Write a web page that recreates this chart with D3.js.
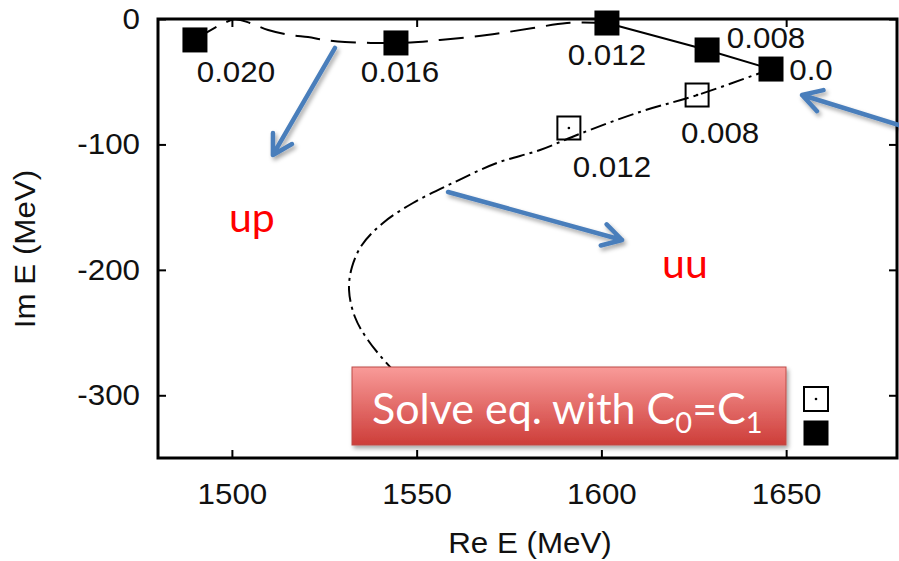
<!DOCTYPE html>
<html>
<head>
<meta charset="utf-8">
<script src="https://cdn.jsdelivr.net/npm/d3@7"></script>
<style>
  body { margin: 0; background: #fff; }
  svg { display: block; }
</style>
</head>
<body>
<div id="chart-area"></div>
<script>
// filled squares (solid / dashed trajectory)
const filledRe = [1490.0, 1544.4, 1601.5, 1628.6, 1645.9];
const filledIm = [-16.7, -19.1, -3.2, -24.7, -39.9];
const filledLabels = ["0.020", "0.016", "0.012", "0.008", "0.0"];

// open squares (dash-dot trajectory)
const openRe = [1591.2, 1625.9];
const openIm = [-86.9, -60.6];
const openLabels = ["0.012", "0.008"];

// dashed trajectory
const dashRe = [1490.0, 1500.5, 1504.9, 1509.8, 1516.0, 1520.6, 1525.2, 1530.6, 1537.6, 1544.4, 1550.4, 1556.3, 1569.0, 1581.5, 1590.7, 1601.5];
const dashIm = [-16.7, -0.5, -3.2, -8.8, -12.8, -14.4, -16.7, -18.3, -19.1, -19.1, -18.3, -16.7, -12.8, -7.2, -3.2, -3.2];

// solid segment
const solidRe = [1601.5, 1628.6, 1645.9];
const solidIm = [-3.2, -24.7, -39.9];

// dash-dot trajectory
const dotRe = [1645.9, 1626.0, 1610.4, 1594.2, 1583.4, 1571.7, 1559.8, 1549.0, 1540.9, 1535.2, 1532.5, 1531.7, 1533.3, 1536.8, 1542.8, 1550.9, 1559.5];
const dotIm = [-39.9, -60.6, -74.1, -91.5, -104.4, -114.8, -130.7, -146.7, -162.6, -180.2, -197.7, -216.1, -237.6, -255.9, -277.4, -302.2, -322.0];

const xTicks = [1500, 1550, 1600, 1650];
const yTicks = [0, -100, -200, -300];

// blue annotation arrows (data units)
const arrowFromRe = [1527.9, 1558.5, 1682.2];
const arrowFromIm = [-23.1, -137.9, -86.1];
const arrowToRe = [1511.1, 1605.6, 1654.3];
const arrowToIm = [-108.4, -176.2, -60.6];

// red labels (data units)
const noteText = ["up", "uu"];
const noteRe = [1505.4, 1622.6];
const noteIm = [-169.8, -206.5];

// label offsets in px (dx of centre, dy of baseline)
const filledOff = [[41, 42], [4, 39], [0, 42], [59, -2], [40, 11]];
const openOff = [[43, 49], [23, 48]];

const W = 899, H = 561;
const margins = { top: 19, right: 2, bottom: 103, left: 158 };
const graphWidth = W - margins.left - margins.right;
const graphHeight = H - margins.top - margins.bottom;

const gpFont = "'Liberation Sans', Arial, Helvetica, sans-serif";
const gpSize = 29;
const stretchK = 1.08;

const svg = d3.select("#chart-area").append("svg")
  .attr("width", W).attr("height", H);

const defs = svg.append("defs");
defs.append("clipPath").attr("id", "plotclip")
  .append("rect").attr("width", graphWidth).attr("height", graphHeight);

const shadow = defs.append("filter").attr("id", "shadow")
  .attr("x", "-20%").attr("y", "-20%").attr("width", "140%").attr("height", "160%");
shadow.append("feDropShadow").attr("dx", 2).attr("dy", 3).attr("stdDeviation", 2)
  .attr("flood-color", "#000").attr("flood-opacity", 0.35);

const grad = defs.append("linearGradient").attr("id", "boxgrad")
  .attr("x1", 0).attr("y1", 0).attr("x2", 0).attr("y2", 1);
grad.append("stop").attr("offset", "0%").attr("stop-color", "#f99b99");
grad.append("stop").attr("offset", "100%").attr("stop-color", "#cd3d39");

const graph = svg.append("g")
  .attr("transform", `translate(${margins.left},${margins.top})`);

const x = d3.scaleLinear().domain([1480, 1680]).range([0, graphWidth]);
const y = d3.scaleLinear().domain([-350, 0]).range([graphHeight, 0]);

function stretch(sel) {
  sel.each(function() {
    const len = this.getComputedTextLength();
    d3.select(this).attr("textLength", len * stretchK).attr("lengthAdjust", "spacingAndGlyphs");
  });
}

const plain = d => String(d);

// axes, ticks inside on all four sides
const xAxisGroup = graph.append("g").attr("transform", `translate(0,${graphHeight})`)
  .call(d3.axisBottom(x).tickValues(xTicks).tickFormat(plain).tickSizeInner(-8).tickSizeOuter(0).tickPadding(25));
const yAxisGroup = graph.append("g")
  .call(d3.axisLeft(y).tickValues(yTicks).tickFormat(plain).tickSizeInner(-8).tickSizeOuter(0).tickPadding(18));
graph.append("g")
  .call(d3.axisTop(x).tickValues(xTicks).tickSizeInner(-8).tickSizeOuter(0).tickFormat(""));
graph.append("g").attr("transform", `translate(${graphWidth},0)`)
  .call(d3.axisRight(y).tickValues(yTicks).tickSizeInner(-8).tickSizeOuter(0).tickFormat(""));

graph.selectAll(".domain").remove();
graph.selectAll(".tick line").attr("stroke", "#000").attr("stroke-width", 2);
graph.selectAll(".tick text")
  .attr("font-family", gpFont).attr("font-size", gpSize).attr("fill", "#111");
stretch(xAxisGroup.selectAll(".tick text"));
stretch(yAxisGroup.selectAll(".tick text"));

// curves
const plot = graph.append("g").attr("clip-path", "url(#plotclip)");
const line = d3.line().x(d => x(d[0])).y(d => y(d[1])).curve(d3.curveCatmullRom.alpha(0.5));
const lineStraight = d3.line().x(d => x(d[0])).y(d => y(d[1]));

plot.append("path")
  .datum(dashRe.map((v, i) => [v, dashIm[i]]))
  .attr("d", line).attr("fill", "none").attr("stroke", "#000")
  .attr("stroke-width", 2).attr("stroke-dasharray", "25,11");

plot.append("path")
  .datum(solidRe.map((v, i) => [v, solidIm[i]]))
  .attr("d", lineStraight).attr("fill", "none").attr("stroke", "#000").attr("stroke-width", 2);

plot.append("path")
  .datum(dotRe.map((v, i) => [v, dotIm[i]]))
  .attr("d", line).attr("fill", "none").attr("stroke", "#000")
  .attr("stroke-width", 2).attr("stroke-dasharray", "16,5,3,5");

// frame
graph.append("rect").attr("width", graphWidth).attr("height", graphHeight)
  .attr("fill", "none").attr("stroke", "#000").attr("stroke-width", 3);

// markers
const sq = 25;
graph.selectAll(".filled").data(filledRe).enter().append("rect")
  .attr("class", "filled")
  .attr("x", (d) => x(d) - sq / 2)
  .attr("y", (d, i) => y(filledIm[i]) - sq / 2)
  .attr("width", sq).attr("height", sq).attr("fill", "#000");

graph.selectAll(".open").data(openRe).enter().append("rect")
  .attr("class", "open")
  .attr("x", (d) => x(d) - (sq - 2) / 2)
  .attr("y", (d, i) => y(openIm[i]) - (sq - 2) / 2)
  .attr("width", sq - 2).attr("height", sq - 2)
  .attr("fill", "none").attr("stroke", "#000").attr("stroke-width", 2);

graph.selectAll(".opendot").data(openRe).enter().append("circle")
  .attr("cx", (d) => x(d)).attr("cy", (d, i) => y(openIm[i])).attr("r", 1.3).attr("fill", "#000");

// point labels
const flab = graph.selectAll(".flab").data(filledLabels).enter().append("text")
  .attr("x", (d, i) => x(filledRe[i]) + filledOff[i][0])
  .attr("y", (d, i) => y(filledIm[i]) + filledOff[i][1])
  .attr("text-anchor", "middle")
  .attr("font-family", gpFont).attr("font-size", gpSize).attr("fill", "#111")
  .text(d => d);
stretch(flab);

const olab = graph.selectAll(".olab").data(openLabels).enter().append("text")
  .attr("x", (d, i) => x(openRe[i]) + openOff[i][0])
  .attr("y", (d, i) => y(openIm[i]) + openOff[i][1])
  .attr("text-anchor", "middle")
  .attr("font-family", gpFont).attr("font-size", gpSize).attr("fill", "#111")
  .text(d => d);
stretch(olab);

// axis titles
const xt = svg.append("text").attr("x", 530).attr("y", 553).attr("text-anchor", "middle")
  .attr("font-family", gpFont).attr("font-size", gpSize).attr("fill", "#111")
  .text("Re E (MeV)");
stretch(xt);
const yt = svg.append("text").attr("transform", "translate(35,249) rotate(-90)")
  .attr("text-anchor", "middle")
  .attr("font-family", gpFont).attr("font-size", gpSize).attr("fill", "#111")
  .text("Im E (MeV)");
stretch(yt);

// blue arrows
const arrows = svg.append("g").attr("filter", "url(#shadow)")
  .attr("transform", `translate(${margins.left},${margins.top})`);
arrowFromRe.forEach((r, i) => {
  const x0 = x(r), y0 = y(arrowFromIm[i]);
  const x1 = x(arrowToRe[i]), y1 = y(arrowToIm[i]);
  const a = Math.atan2(y1 - y0, x1 - x0);
  const L = 22, phi = Math.PI / 6;
  const w1 = [x1 - L * Math.cos(a - phi), y1 - L * Math.sin(a - phi)];
  const w2 = [x1 - L * Math.cos(a + phi), y1 - L * Math.sin(a + phi)];
  arrows.append("path")
    .attr("d", `M${x0},${y0}L${x1},${y1}M${w1[0]},${w1[1]}L${x1},${y1}L${w2[0]},${w2[1]}`)
    .attr("fill", "none").attr("stroke", "#4a7ebb").attr("stroke-width", 4.5)
    .attr("stroke-linecap", "round").attr("stroke-linejoin", "round");
});

// red notes
graph.selectAll(".note").data(noteText).enter().append("text")
  .attr("x", (d, i) => x(noteRe[i])).attr("y", (d, i) => y(noteIm[i]))
  .attr("text-anchor", "middle")
  .attr("font-family", "Lato, 'Open Sans', sans-serif").attr("font-size", 41)
  .attr("fill", "#ff0000").text(d => d);

// red callout box
const box = { x: 352, y: 367, w: 434, h: 78 };
svg.append("rect").attr("x", box.x).attr("y", box.y).attr("width", box.w).attr("height", box.h)
  .attr("fill", "url(#boxgrad)").attr("stroke", "#bd4a47").attr("stroke-width", 1)
  .attr("filter", "url(#shadow)");

const bt = svg.append("text").attr("x", 372).attr("y", 424)
  .attr("font-family", "Lato, 'Open Sans', sans-serif").attr("font-size", 43).attr("fill", "#fff");
bt.append("tspan").text("Solve eq. with C");
bt.append("tspan").attr("font-size", 29).attr("dy", 9).text("0");
bt.append("tspan").attr("dy", -9).text("=C");
bt.append("tspan").attr("font-size", 29).attr("dy", 9).text("1");

// key samples (text hidden under the callout)
const key = svg.append("g").attr("transform", "translate(816,0)");
key.append("rect").attr("x", -12).attr("y", 399 - 12).attr("width", 24).attr("height", 24)
  .attr("fill", "#fff").attr("stroke", "#000").attr("stroke-width", 2);
key.append("circle").attr("cx", 0).attr("cy", 399).attr("r", 1.3).attr("fill", "#000");
key.append("rect").attr("x", -12.5).attr("y", 433 - 12.5).attr("width", 25).attr("height", 25)
  .attr("fill", "#000");
</script>
</body>
</html>
